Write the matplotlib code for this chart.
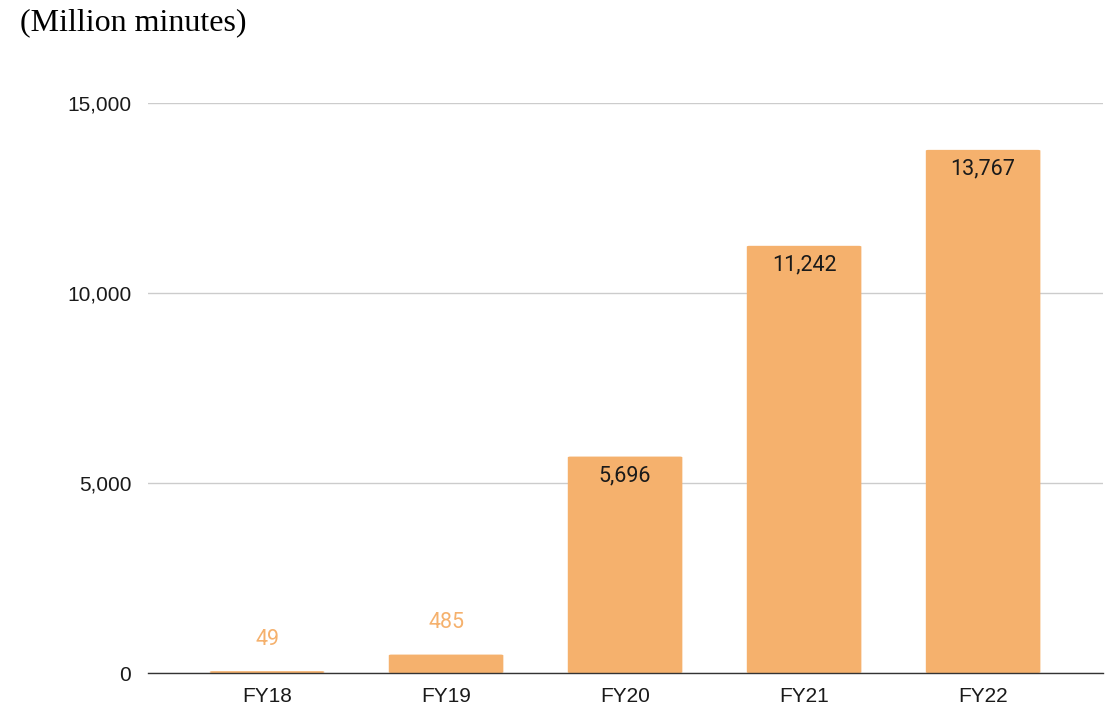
import matplotlib.pyplot as plt
from matplotlib.patches import FancyBboxPatch

years = ["FY18", "FY19", "FY20", "FY21", "FY22"]
minutes = [49, 485, 5696, 11242, 13767]
yticks = [0, 5000, 10000, 15000]

bar_color = "#F5B16D"

fig = plt.figure(figsize=(11.17, 7.10), dpi=100)
ax = fig.add_axes([0.1325, 0.0521, 0.855, 0.8028])

x = list(range(len(years)))
bars = ax.bar(x, minutes, width=0.64, color=bar_color, zorder=3)

# swap the square bars for slightly rounded ones
for b in bars:
    b.set_visible(False)
    rr = FancyBboxPatch((b.get_x(), b.get_y()), b.get_width(), b.get_height(),
                        boxstyle="round,pad=0,rounding_size=0.015",
                        mutation_aspect=15000 / 5.33 * 0.5,
                        facecolor=bar_color, edgecolor="none", zorder=3)
    ax.add_patch(rr)

for xi, v in zip(x, minutes):
    txt = f"{v:,}"
    if v > 2000:
        ax.annotate(txt, (xi, v), xytext=(0, -19), textcoords="offset pixels",
                    ha="center", va="center", fontsize=15.5, family="Roboto",
                    color="#1a1a1a", zorder=4)
    else:
        ax.annotate(txt, (xi, v), xytext=(0, 32), textcoords="offset pixels",
                    ha="center", va="center", fontsize=15.5, family="Roboto",
                    color=bar_color, zorder=4)

ax.set_xlim(-0.665, 4.67)
ax.set_ylim(0, 15000)
ax.set_xticks(x)
ax.set_xticklabels(years, fontsize=15, family="Liberation Sans", color="#1a1a1a")
ax.set_yticks(yticks)
ax.set_yticklabels([f"{t:,}" for t in yticks], fontsize=15,
                   family="Liberation Sans", color="#1a1a1a")
ax.tick_params(length=0, pad=10)
ax.tick_params(axis="y", pad=12)

ax.grid(axis="y", color="#cccccc", linewidth=1, zorder=0)
ax.set_axisbelow(True)
for s in ["top", "right", "left"]:
    ax.spines[s].set_visible(False)
ax.spines["bottom"].set_color("#333333")
ax.spines["bottom"].set_linewidth(1)
ax.spines["bottom"].set_zorder(5)

fig.text(0.018, 0.968, "(Million minutes)", family="Liberation Serif",
         fontsize=23, ha="left", va="center", color="black")

fig.savefig("out.png", dpi=100)
